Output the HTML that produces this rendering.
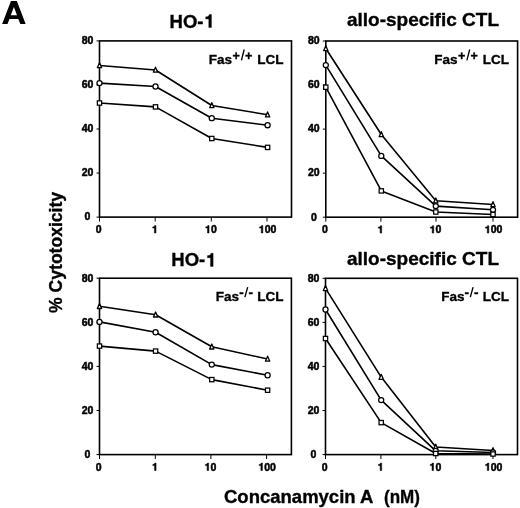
<!DOCTYPE html>
<html><head><meta charset="utf-8"><style>
html,body{margin:0;padding:0;background:#fff;}
svg{display:block;will-change:transform;}
text{font-family:"Liberation Sans", sans-serif;font-weight:bold;fill:#000;stroke:#000;stroke-width:0.35px;}
.A{font-size:33px;}
.ttl{font-size:18.5px;}
.tk{font-size:10.5px;stroke-width:0.5px;}
.fas{font-size:13.5px;}
</style></head><body>
<svg width="520" height="508" viewBox="0 0 520 508">
<rect x="99.5" y="40.9" width="192.00" height="176.20" fill="none" stroke="#000" stroke-width="1.6"/>
<line x1="96.5" y1="217.10" x2="99.5" y2="217.10" stroke="#000" stroke-width="1"/>
<text x="87.50" y="220.40" text-anchor="middle" class="tk">0</text>
<line x1="96.5" y1="173.05" x2="99.5" y2="173.05" stroke="#000" stroke-width="1"/>
<text x="87.50" y="176.35" text-anchor="middle" class="tk">20</text>
<line x1="96.5" y1="129.00" x2="99.5" y2="129.00" stroke="#000" stroke-width="1"/>
<text x="87.50" y="132.30" text-anchor="middle" class="tk">40</text>
<line x1="96.5" y1="84.95" x2="99.5" y2="84.95" stroke="#000" stroke-width="1"/>
<text x="87.50" y="88.25" text-anchor="middle" class="tk">60</text>
<line x1="96.5" y1="40.90" x2="99.5" y2="40.90" stroke="#000" stroke-width="1"/>
<text x="87.50" y="44.20" text-anchor="middle" class="tk">80</text>
<line x1="99.5" y1="217.1" x2="99.5" y2="221.50" stroke="#000" stroke-width="1"/>
<text x="95.68" y="233.00" class="tk">0</text>
<line x1="155.2" y1="217.1" x2="155.2" y2="221.50" stroke="#000" stroke-width="1"/>
<path d="M155.96,233.00 L155.96,225.59 L154.74,225.59 L154.46,226.28 L153.99,226.70 L153.25,226.86 L152.72,226.91 L152.72,228.09 L154.44,228.09 L154.44,233.00 Z" fill="#000" stroke="#000" stroke-width="0.5"/>
<line x1="211.3" y1="217.1" x2="211.3" y2="221.50" stroke="#000" stroke-width="1"/>
<path d="M209.03,233.00 L209.03,225.59 L207.81,225.59 L207.53,226.28 L207.06,226.70 L206.32,226.86 L205.79,226.91 L205.79,228.09 L207.51,228.09 L207.51,233.00 Z" fill="#000" stroke="#000" stroke-width="0.5"/>
<text x="210.90" y="233.00" class="tk">0</text>
<line x1="267.0" y1="217.1" x2="267.0" y2="221.50" stroke="#000" stroke-width="1"/>
<path d="M262.81,233.00 L262.81,225.59 L261.59,225.59 L261.31,226.28 L260.84,226.70 L260.10,226.86 L259.57,226.91 L259.57,228.09 L261.29,228.09 L261.29,233.00 Z" fill="#000" stroke="#000" stroke-width="0.5"/>
<text x="264.68" y="233.00" class="tk">0</text>
<text x="270.52" y="233.00" class="tk">0</text>
<polyline points="99.5,103 155.5,106.9 211.8,138.5 267.6,147.4" fill="none" stroke="#000" stroke-width="1.6" stroke-linejoin="round"/>
<polyline points="99.5,83.1 155.5,86.5 211.8,118.2 267.6,125.2" fill="none" stroke="#000" stroke-width="1.6" stroke-linejoin="round"/>
<polyline points="99.5,65.5 155.5,70 211.8,105.5 267.6,114.7" fill="none" stroke="#000" stroke-width="1.6" stroke-linejoin="round"/>
<path d="M99.50,62.70 L101.65,67.70 L97.35,67.70 Z" fill="#fff" stroke="#000" stroke-width="1.3" stroke-linejoin="round"/>
<path d="M155.50,67.20 L157.65,72.20 L153.35,72.20 Z" fill="#fff" stroke="#000" stroke-width="1.3" stroke-linejoin="round"/>
<path d="M211.80,102.70 L213.95,107.70 L209.65,107.70 Z" fill="#fff" stroke="#000" stroke-width="1.3" stroke-linejoin="round"/>
<path d="M267.60,111.90 L269.75,116.90 L265.45,116.90 Z" fill="#fff" stroke="#000" stroke-width="1.3" stroke-linejoin="round"/>
<circle cx="99.5" cy="83.1" r="2.55" fill="#fff" stroke="#000" stroke-width="1.25"/>
<circle cx="155.5" cy="86.5" r="2.55" fill="#fff" stroke="#000" stroke-width="1.25"/>
<circle cx="211.8" cy="118.2" r="2.55" fill="#fff" stroke="#000" stroke-width="1.25"/>
<circle cx="267.6" cy="125.2" r="2.55" fill="#fff" stroke="#000" stroke-width="1.25"/>
<rect x="97.35" y="100.85" width="4.3" height="4.3" fill="#fff" stroke="#000" stroke-width="1.25"/>
<rect x="153.35" y="104.75" width="4.3" height="4.3" fill="#fff" stroke="#000" stroke-width="1.25"/>
<rect x="209.65" y="136.35" width="4.3" height="4.3" fill="#fff" stroke="#000" stroke-width="1.25"/>
<rect x="265.45" y="145.25" width="4.3" height="4.3" fill="#fff" stroke="#000" stroke-width="1.25"/>
<rect x="325.8" y="41.0" width="191.80" height="176.20" fill="none" stroke="#000" stroke-width="1.6"/>
<line x1="322.8" y1="217.20" x2="325.8" y2="217.20" stroke="#000" stroke-width="1"/>
<text x="313.80" y="220.50" text-anchor="middle" class="tk">0</text>
<line x1="322.8" y1="173.15" x2="325.8" y2="173.15" stroke="#000" stroke-width="1"/>
<text x="313.80" y="176.45" text-anchor="middle" class="tk">20</text>
<line x1="322.8" y1="129.10" x2="325.8" y2="129.10" stroke="#000" stroke-width="1"/>
<text x="313.80" y="132.40" text-anchor="middle" class="tk">40</text>
<line x1="322.8" y1="85.05" x2="325.8" y2="85.05" stroke="#000" stroke-width="1"/>
<text x="313.80" y="88.35" text-anchor="middle" class="tk">60</text>
<line x1="322.8" y1="41.00" x2="325.8" y2="41.00" stroke="#000" stroke-width="1"/>
<text x="313.80" y="44.30" text-anchor="middle" class="tk">80</text>
<line x1="325.8" y1="217.2" x2="325.8" y2="221.60" stroke="#000" stroke-width="1"/>
<text x="321.98" y="233.10" class="tk">0</text>
<line x1="380.9" y1="217.2" x2="380.9" y2="221.60" stroke="#000" stroke-width="1"/>
<path d="M381.66,233.10 L381.66,225.69 L380.44,225.69 L380.16,226.38 L379.69,226.80 L378.95,226.96 L378.42,227.01 L378.42,228.19 L380.14,228.19 L380.14,233.10 Z" fill="#000" stroke="#000" stroke-width="0.5"/>
<line x1="436.0" y1="217.2" x2="436.0" y2="221.60" stroke="#000" stroke-width="1"/>
<path d="M433.73,233.10 L433.73,225.69 L432.51,225.69 L432.23,226.38 L431.76,226.80 L431.02,226.96 L430.49,227.01 L430.49,228.19 L432.21,228.19 L432.21,233.10 Z" fill="#000" stroke="#000" stroke-width="0.5"/>
<text x="435.60" y="233.10" class="tk">0</text>
<line x1="493.0" y1="217.2" x2="493.0" y2="221.60" stroke="#000" stroke-width="1"/>
<path d="M488.81,233.10 L488.81,225.69 L487.59,225.69 L487.31,226.38 L486.84,226.80 L486.10,226.96 L485.57,227.01 L485.57,228.19 L487.29,228.19 L487.29,233.10 Z" fill="#000" stroke="#000" stroke-width="0.5"/>
<text x="490.68" y="233.10" class="tk">0</text>
<text x="496.52" y="233.10" class="tk">0</text>
<polyline points="325.8,87.2 381.3,190.9 435.8,212 493.0,214.5" fill="none" stroke="#000" stroke-width="1.6" stroke-linejoin="round"/>
<polyline points="325.8,65.1 381.3,155.9 435.8,206.1 493.0,209.8" fill="none" stroke="#000" stroke-width="1.6" stroke-linejoin="round"/>
<polyline points="325.8,48.5 381.3,134.5 435.8,200.7 493.0,204.5" fill="none" stroke="#000" stroke-width="1.6" stroke-linejoin="round"/>
<path d="M325.80,45.70 L327.95,50.70 L323.65,50.70 Z" fill="#fff" stroke="#000" stroke-width="1.3" stroke-linejoin="round"/>
<path d="M381.30,131.70 L383.45,136.70 L379.15,136.70 Z" fill="#fff" stroke="#000" stroke-width="1.3" stroke-linejoin="round"/>
<path d="M435.80,197.90 L437.95,202.90 L433.65,202.90 Z" fill="#fff" stroke="#000" stroke-width="1.3" stroke-linejoin="round"/>
<path d="M493.00,201.70 L495.15,206.70 L490.85,206.70 Z" fill="#fff" stroke="#000" stroke-width="1.3" stroke-linejoin="round"/>
<circle cx="325.8" cy="65.1" r="2.55" fill="#fff" stroke="#000" stroke-width="1.25"/>
<circle cx="381.3" cy="155.9" r="2.55" fill="#fff" stroke="#000" stroke-width="1.25"/>
<circle cx="435.8" cy="206.1" r="2.55" fill="#fff" stroke="#000" stroke-width="1.25"/>
<circle cx="493.0" cy="209.8" r="2.55" fill="#fff" stroke="#000" stroke-width="1.25"/>
<rect x="323.65" y="85.05" width="4.3" height="4.3" fill="#fff" stroke="#000" stroke-width="1.25"/>
<rect x="379.15" y="188.75" width="4.3" height="4.3" fill="#fff" stroke="#000" stroke-width="1.25"/>
<rect x="433.65" y="209.85" width="4.3" height="4.3" fill="#fff" stroke="#000" stroke-width="1.25"/>
<rect x="490.85" y="212.35" width="4.3" height="4.3" fill="#fff" stroke="#000" stroke-width="1.25"/>
<rect x="99.5" y="278.2" width="191.90" height="176.40" fill="none" stroke="#000" stroke-width="1.6"/>
<line x1="96.5" y1="454.60" x2="99.5" y2="454.60" stroke="#000" stroke-width="1"/>
<text x="87.50" y="457.90" text-anchor="middle" class="tk">0</text>
<line x1="96.5" y1="410.50" x2="99.5" y2="410.50" stroke="#000" stroke-width="1"/>
<text x="87.50" y="413.80" text-anchor="middle" class="tk">20</text>
<line x1="96.5" y1="366.40" x2="99.5" y2="366.40" stroke="#000" stroke-width="1"/>
<text x="87.50" y="369.70" text-anchor="middle" class="tk">40</text>
<line x1="96.5" y1="322.30" x2="99.5" y2="322.30" stroke="#000" stroke-width="1"/>
<text x="87.50" y="325.60" text-anchor="middle" class="tk">60</text>
<line x1="96.5" y1="278.20" x2="99.5" y2="278.20" stroke="#000" stroke-width="1"/>
<text x="87.50" y="281.50" text-anchor="middle" class="tk">80</text>
<line x1="99.5" y1="454.6" x2="99.5" y2="459.00" stroke="#000" stroke-width="1"/>
<text x="95.68" y="470.50" class="tk">0</text>
<line x1="155.3" y1="454.6" x2="155.3" y2="459.00" stroke="#000" stroke-width="1"/>
<path d="M156.06,470.50 L156.06,463.09 L154.84,463.09 L154.56,463.78 L154.09,464.20 L153.35,464.36 L152.82,464.41 L152.82,465.59 L154.54,465.59 L154.54,470.50 Z" fill="#000" stroke="#000" stroke-width="0.5"/>
<line x1="210.9" y1="454.6" x2="210.9" y2="459.00" stroke="#000" stroke-width="1"/>
<path d="M208.63,470.50 L208.63,463.09 L207.41,463.09 L207.13,463.78 L206.66,464.20 L205.92,464.36 L205.39,464.41 L205.39,465.59 L207.11,465.59 L207.11,470.50 Z" fill="#000" stroke="#000" stroke-width="0.5"/>
<text x="210.50" y="470.50" class="tk">0</text>
<line x1="266.6" y1="454.6" x2="266.6" y2="459.00" stroke="#000" stroke-width="1"/>
<path d="M262.41,470.50 L262.41,463.09 L261.19,463.09 L260.91,463.78 L260.44,464.20 L259.70,464.36 L259.17,464.41 L259.17,465.59 L260.89,465.59 L260.89,470.50 Z" fill="#000" stroke="#000" stroke-width="0.5"/>
<text x="264.28" y="470.50" class="tk">0</text>
<text x="270.12" y="470.50" class="tk">0</text>
<polyline points="99.5,346.1 155.6,351.1 211.8,379.6 267.6,390.2" fill="none" stroke="#000" stroke-width="1.6" stroke-linejoin="round"/>
<polyline points="99.5,321.9 155.6,332.2 211.8,364.6 267.6,375.2" fill="none" stroke="#000" stroke-width="1.6" stroke-linejoin="round"/>
<polyline points="99.5,306.3 155.6,314.8 211.8,346.8 267.6,359" fill="none" stroke="#000" stroke-width="1.6" stroke-linejoin="round"/>
<path d="M99.50,303.50 L101.65,308.50 L97.35,308.50 Z" fill="#fff" stroke="#000" stroke-width="1.3" stroke-linejoin="round"/>
<path d="M155.60,312.00 L157.75,317.00 L153.45,317.00 Z" fill="#fff" stroke="#000" stroke-width="1.3" stroke-linejoin="round"/>
<path d="M211.80,344.00 L213.95,349.00 L209.65,349.00 Z" fill="#fff" stroke="#000" stroke-width="1.3" stroke-linejoin="round"/>
<path d="M267.60,356.20 L269.75,361.20 L265.45,361.20 Z" fill="#fff" stroke="#000" stroke-width="1.3" stroke-linejoin="round"/>
<circle cx="99.5" cy="321.9" r="2.55" fill="#fff" stroke="#000" stroke-width="1.25"/>
<circle cx="155.6" cy="332.2" r="2.55" fill="#fff" stroke="#000" stroke-width="1.25"/>
<circle cx="211.8" cy="364.6" r="2.55" fill="#fff" stroke="#000" stroke-width="1.25"/>
<circle cx="267.6" cy="375.2" r="2.55" fill="#fff" stroke="#000" stroke-width="1.25"/>
<rect x="97.35" y="343.95" width="4.3" height="4.3" fill="#fff" stroke="#000" stroke-width="1.25"/>
<rect x="153.45" y="348.95" width="4.3" height="4.3" fill="#fff" stroke="#000" stroke-width="1.25"/>
<rect x="209.65" y="377.45" width="4.3" height="4.3" fill="#fff" stroke="#000" stroke-width="1.25"/>
<rect x="265.45" y="388.05" width="4.3" height="4.3" fill="#fff" stroke="#000" stroke-width="1.25"/>
<rect x="325.5" y="278.3" width="192.00" height="176.30" fill="none" stroke="#000" stroke-width="1.6"/>
<line x1="322.5" y1="454.60" x2="325.5" y2="454.60" stroke="#000" stroke-width="1"/>
<text x="313.50" y="457.90" text-anchor="middle" class="tk">0</text>
<line x1="322.5" y1="410.53" x2="325.5" y2="410.53" stroke="#000" stroke-width="1"/>
<text x="313.50" y="413.83" text-anchor="middle" class="tk">20</text>
<line x1="322.5" y1="366.45" x2="325.5" y2="366.45" stroke="#000" stroke-width="1"/>
<text x="313.50" y="369.75" text-anchor="middle" class="tk">40</text>
<line x1="322.5" y1="322.38" x2="325.5" y2="322.38" stroke="#000" stroke-width="1"/>
<text x="313.50" y="325.68" text-anchor="middle" class="tk">60</text>
<line x1="322.5" y1="278.30" x2="325.5" y2="278.30" stroke="#000" stroke-width="1"/>
<text x="313.50" y="281.60" text-anchor="middle" class="tk">80</text>
<line x1="325.5" y1="454.6" x2="325.5" y2="459.00" stroke="#000" stroke-width="1"/>
<text x="321.68" y="470.50" class="tk">0</text>
<line x1="380.9" y1="454.6" x2="380.9" y2="459.00" stroke="#000" stroke-width="1"/>
<path d="M381.66,470.50 L381.66,463.09 L380.44,463.09 L380.16,463.78 L379.69,464.20 L378.95,464.36 L378.42,464.41 L378.42,465.59 L380.14,465.59 L380.14,470.50 Z" fill="#000" stroke="#000" stroke-width="0.5"/>
<line x1="435.8" y1="454.6" x2="435.8" y2="459.00" stroke="#000" stroke-width="1"/>
<path d="M433.53,470.50 L433.53,463.09 L432.31,463.09 L432.03,463.78 L431.56,464.20 L430.82,464.36 L430.29,464.41 L430.29,465.59 L432.01,465.59 L432.01,470.50 Z" fill="#000" stroke="#000" stroke-width="0.5"/>
<text x="435.40" y="470.50" class="tk">0</text>
<line x1="493.0" y1="454.6" x2="493.0" y2="459.00" stroke="#000" stroke-width="1"/>
<path d="M488.81,470.50 L488.81,463.09 L487.59,463.09 L487.31,463.78 L486.84,464.20 L486.10,464.36 L485.57,464.41 L485.57,465.59 L487.29,465.59 L487.29,470.50 Z" fill="#000" stroke="#000" stroke-width="0.5"/>
<text x="490.68" y="470.50" class="tk">0</text>
<text x="496.52" y="470.50" class="tk">0</text>
<polyline points="325.5,338.5 381.2,422.6 435.7,453.5 493.0,454" fill="none" stroke="#000" stroke-width="1.6" stroke-linejoin="round"/>
<polyline points="325.5,309.5 381.2,400.1 435.7,450.8 493.0,452.5" fill="none" stroke="#000" stroke-width="1.6" stroke-linejoin="round"/>
<polyline points="325.5,288.4 381.2,377.1 435.7,447 493.0,450.5" fill="none" stroke="#000" stroke-width="1.6" stroke-linejoin="round"/>
<path d="M325.50,285.60 L327.65,290.60 L323.35,290.60 Z" fill="#fff" stroke="#000" stroke-width="1.3" stroke-linejoin="round"/>
<path d="M381.20,374.30 L383.35,379.30 L379.05,379.30 Z" fill="#fff" stroke="#000" stroke-width="1.3" stroke-linejoin="round"/>
<path d="M435.70,444.20 L437.85,449.20 L433.55,449.20 Z" fill="#fff" stroke="#000" stroke-width="1.3" stroke-linejoin="round"/>
<path d="M493.00,447.70 L495.15,452.70 L490.85,452.70 Z" fill="#fff" stroke="#000" stroke-width="1.3" stroke-linejoin="round"/>
<circle cx="325.5" cy="309.5" r="2.55" fill="#fff" stroke="#000" stroke-width="1.25"/>
<circle cx="381.2" cy="400.1" r="2.55" fill="#fff" stroke="#000" stroke-width="1.25"/>
<circle cx="435.7" cy="450.8" r="2.55" fill="#fff" stroke="#000" stroke-width="1.25"/>
<circle cx="493.0" cy="452.5" r="2.55" fill="#fff" stroke="#000" stroke-width="1.25"/>
<rect x="323.35" y="336.35" width="4.3" height="4.3" fill="#fff" stroke="#000" stroke-width="1.25"/>
<rect x="379.05" y="420.45" width="4.3" height="4.3" fill="#fff" stroke="#000" stroke-width="1.25"/>
<rect x="433.55" y="451.35" width="4.3" height="4.3" fill="#fff" stroke="#000" stroke-width="1.25"/>
<rect x="490.85" y="451.85" width="4.3" height="4.3" fill="#fff" stroke="#000" stroke-width="1.25"/>
<path fill-rule="evenodd" fill="#000" d="M10.95,1.1 L16.85,1.1 L25.65,24 L20.3,24 L18.34,18.9 L9.46,18.9 L7.5,24 L2.15,24 Z M13.9,6.9 L17.0,15.3 L10.8,15.3 Z"/>
<text x="169.6" y="27.6" class="ttl">HO-</text>
<path d="M211.44,27.60 L211.44,14.54 L209.30,14.54 L208.80,15.76 L207.96,16.50 L206.67,16.78 L205.72,16.87 L205.72,18.94 L208.76,18.94 L208.76,27.60 Z" fill="#000" stroke="#000" stroke-width="0.35"/>
<text x="171.3" y="266.4" class="ttl">HO-</text>
<path d="M213.14,266.40 L213.14,253.34 L211.00,253.34 L210.50,254.56 L209.66,255.30 L208.37,255.58 L207.42,255.67 L207.42,257.74 L210.46,257.74 L210.46,266.40 Z" fill="#000" stroke="#000" stroke-width="0.35"/>
<text x="347" y="26" class="ttl" textLength="152" lengthAdjust="spacingAndGlyphs">allo-specific CTL</text>
<text x="347" y="264.7" class="ttl" textLength="152" lengthAdjust="spacingAndGlyphs">allo-specific CTL</text>
<text x="208.80" y="63.60" class="fas">Fas</text>
<text x="232.60" y="60.30" class="fas" style="font-size:12.6px">+</text>
<line x1="241.40" y1="60.30" x2="244.20" y2="49.50" stroke="#000" stroke-width="1.35"/>
<text x="245.10" y="60.30" class="fas" style="font-size:12.6px">+</text>
<text x="257.20" y="63.60" class="fas">LCL</text>
<text x="434.30" y="63.60" class="fas">Fas</text>
<text x="458.10" y="60.30" class="fas" style="font-size:12.6px">+</text>
<line x1="466.90" y1="60.30" x2="469.70" y2="49.50" stroke="#000" stroke-width="1.35"/>
<text x="470.60" y="60.30" class="fas" style="font-size:12.6px">+</text>
<text x="482.70" y="63.60" class="fas">LCL</text>
<text x="215.80" y="300.70" class="fas">Fas</text>
<text x="239.20" y="296.70" class="fas">-</text>
<line x1="244.90" y1="297.10" x2="247.70" y2="287.10" stroke="#000" stroke-width="1.35"/>
<text x="248.60" y="296.70" class="fas">-</text>
<text x="257.30" y="300.90" class="fas">LCL</text>
<text x="441.20" y="300.70" class="fas">Fas</text>
<text x="464.60" y="296.70" class="fas">-</text>
<line x1="470.30" y1="297.10" x2="473.10" y2="287.10" stroke="#000" stroke-width="1.35"/>
<text x="474.00" y="296.70" class="fas">-</text>
<text x="482.70" y="300.90" class="fas">LCL</text>
<text transform="translate(62.3,252.4) rotate(-90)" text-anchor="middle" class="ttl" textLength="121" lengthAdjust="spacingAndGlyphs">% Cytotoxicity</text>
<text x="224" y="503" class="ttl" style="font-size:18.5px">Concanamycin A</text>
<text x="384" y="503" class="ttl" textLength="36" lengthAdjust="spacingAndGlyphs">(nM)</text>
</svg>
</body></html>
